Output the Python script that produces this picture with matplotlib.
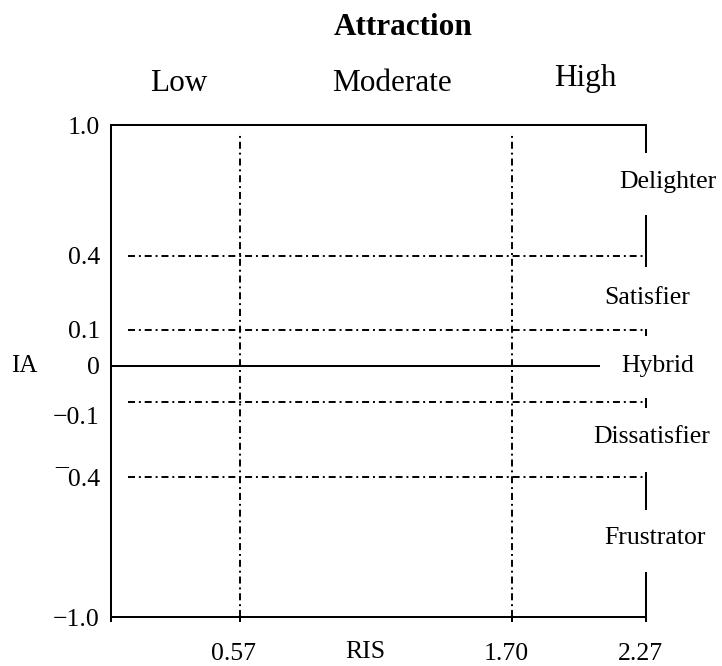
"""Attraction / IA-RIS classification diagram."""

import matplotlib

matplotlib.use("Agg")
import matplotlib.pyplot as plt
import matplotlib.transforms as mtransforms
import numpy as np

# ---- data -------------------------------------------------------------
ris_cuts = [0.57, 1.70]
ris_max = 2.27
ris_ticks = [0.0, 0.57, 1.70, 2.27]
ris_tick_labels = ["", "0.57", "1.70", "2.27"]

ia_cuts = [0.4, 0.1, -0.1, -0.4]
ia_ticks = [1.0, 0.4, 0.1, 0.0, -0.1, -0.4, -1.0]
ia_tick_labels = ["1.0", "0.4", "0.1", "0", "\u22120.1", "\u00af0.4", "\u22121.0"]

attraction_levels = ["Low", "Moderate", "High"]
attraction_x = [0.30, 1.20, 2.01]

classes = ["Delighter", "Satisfier", "Hybrid", "Dissatisfier", "Frustrator"]
class_y = [0.74, 0.23, 0.0, -0.24, -0.66]
class_x = [1.041, 1.002, 1.022, 1.011, 1.017]  # axes fraction

# right-hand bracket pieces at RIS = 2.27 (IA from, IA to)
bracket_top = [1.0, 0.59, 0.104, -0.089, -0.38, -0.807]
bracket_bottom = [0.87, 0.355, 0.083, -0.124, -0.541, -1.0]

hybrid_end = 2.07
cut_start = 0.075
vcut_top = 0.968

# ---- layout: non-uniform axes as drawn in the source -------------------
IA_KNOTS = [-1.0, -0.4, -0.1, 0.0, 0.1, 0.4, 1.0]
IA_POS = [0, 140, 215, 251, 287, 361, 492]
RIS_KNOTS = [0.0, 0.57, 1.70, 2.27]
RIS_POS = [0, 129, 401, 535]

DASHDOT = (0, (3.6, 2.0, 1.0, 2.0))
LW_SOLID = 1.45
LW_DASH = 1.4

plt.rcParams["font.family"] = ["Liberation Serif", "DejaVu Serif"]

fig = plt.figure(figsize=(7.22, 6.66), dpi=100)
ax = fig.add_axes([111 / 722, 49 / 666, 535 / 722, 492 / 666])

ax.set_yscale("function", functions=(lambda v: np.interp(v, IA_KNOTS, IA_POS),
                                     lambda p: np.interp(p, IA_POS, IA_KNOTS)))
ax.set_xscale("function", functions=(lambda v: np.interp(v, RIS_KNOTS, RIS_POS),
                                     lambda p: np.interp(p, RIS_POS, RIS_KNOTS)))
ax.set_xlim(0, ris_max)
ax.set_ylim(-1.0, 1.0)

for side in ("left", "top", "bottom"):
    ax.spines[side].set_linewidth(LW_SOLID)
ax.spines["right"].set_visible(False)

# cut lines
for x in ris_cuts:
    ax.plot([x, x], [-1.0, vcut_top], color="black", lw=LW_DASH, ls=DASHDOT)
for y in ia_cuts:
    ax.plot([cut_start, ris_max], [y, y], color="black", lw=LW_DASH, ls=DASHDOT)

# zero line (Hybrid)
ax.plot([0, hybrid_end], [0, 0], color="black", lw=LW_SOLID)

# right bracket
for y0, y1 in zip(bracket_top, bracket_bottom):
    ax.plot([ris_max, ris_max], [y0, y1], color="black", lw=LW_SOLID,
            solid_capstyle="butt", clip_on=False)

# ticks
ax.set_xticks(ris_ticks, ris_tick_labels, fontsize=18.5)
ax.tick_params(axis="x", direction="out", length=3.6, width=LW_SOLID, pad=15)
for lab in ax.get_xticklabels():
    lab.set_transform(lab.get_transform()
                      + mtransforms.ScaledTranslation(-6 / 100, 0, fig.dpi_scale_trans))

ax.set_yticks(ia_ticks, ia_tick_labels, fontsize=18.5)
ax.tick_params(axis="y", length=0, pad=8)
ylabs = ax.get_yticklabels()
ylabs[4].set_transform(ylabs[4].get_transform()
                       + mtransforms.ScaledTranslation(0, -13 / 100, fig.dpi_scale_trans))

# axis names
ax.text((365 - 111) / 535, -35 / 492, "RIS", transform=ax.transAxes,
        ha="center", va="center", fontsize=18.5)
ax.text(-87 / 535, 0.0, "IA", transform=ax.get_yaxis_transform(),
        ha="center", va="center", fontsize=18)

# attraction levels on top
top_tr = ax.get_xaxis_transform()
for name, x in zip(attraction_levels, attraction_x):
    ax.text(x, 1.085 if name != "High" else 1.094, name, transform=top_tr,
            ha="center", va="center", fontsize=22.5)
ax.text((403 - 111) / 535, 1.199, "Attraction", transform=ax.transAxes,
        ha="center", va="center", fontsize=22.5, fontweight="bold")

# class labels on the right
right_tr = ax.get_yaxis_transform()
for name, x, y in zip(classes, class_x, class_y):
    ax.text(x, y, name, transform=right_tr, ha="center", va="center", fontsize=18.5)

fig.savefig("out.png", dpi=100, facecolor="white")
